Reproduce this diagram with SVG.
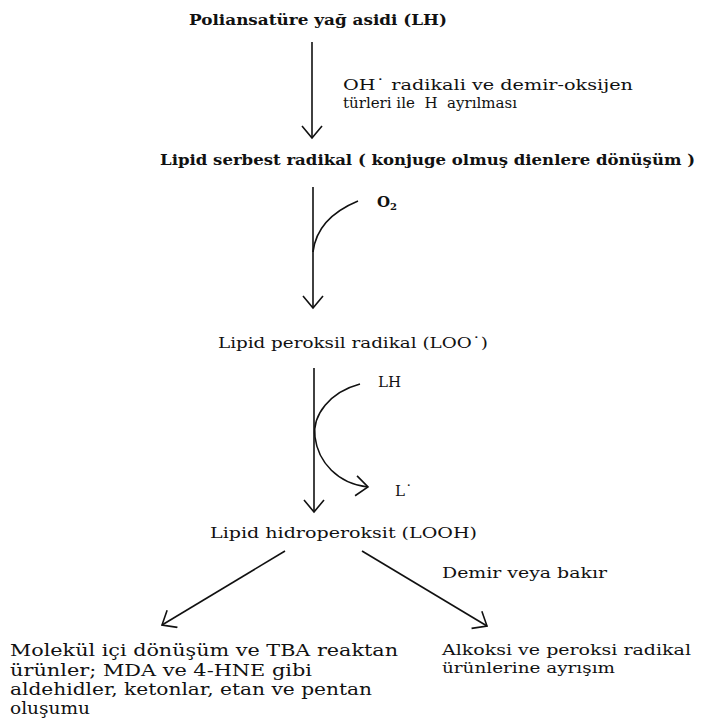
<svg xmlns="http://www.w3.org/2000/svg" width="702" height="722" viewBox="0 0 702 722">
<defs>
<marker id="ah" markerUnits="userSpaceOnUse" markerWidth="16" markerHeight="22" refX="13" refY="11" orient="auto" viewBox="0 0 16 22">
<path d="M1,1 L13,11 L1,21" fill="none" stroke="#111" stroke-width="1.6"/>
</marker>
<style>
text{font-family:"DejaVu Serif","Liberation Serif",serif;fill:#111;}
.b{font-weight:bold;}
.t{font-size:16px;}
.s{font-size:15px;}
.m{font-size:14px;}
.pre{white-space:pre;}
.ln{fill:none;stroke:#111;stroke-width:1.6;}
</style>
</defs>
<rect width="702" height="722" fill="#fff"/>
<g id="connectors">
<path class="ln" d="M312,42 V138" marker-end="url(#ah)"/>
<path class="ln" d="M313,187 V308" marker-end="url(#ah)"/>
<path class="ln" d="M313,252 Q317,218 358,201"/>
<path class="ln" d="M314,368 V512" marker-end="url(#ah)"/>
<path class="ln" d="M360,384 C330,392 312,415 315,437 C318,462 338,484 368,487" marker-end="url(#ah)"/>
<path class="ln" d="M285,551 L162,625" marker-end="url(#ah)"/>
<path class="ln" d="M362,551 L487,626" marker-end="url(#ah)"/>
</g>
<g id="n-pufa"><text class="b s" x="189" y="25" textLength="258" lengthAdjust="spacingAndGlyphs">Poliansatüre yağ asidi (LH)</text></g>
<g id="l-oh">
<text class="m" x="343" y="90" textLength="290" lengthAdjust="spacingAndGlyphs">OH˙ radikali ve demir-oksijen</text>
<text class="m pre" x="343" y="108" textLength="174" lengthAdjust="spacingAndGlyphs">türleri ile  H  ayrılması</text>
</g>
<g id="n-lsr"><text class="b s" x="160" y="165" textLength="535" lengthAdjust="spacingAndGlyphs">Lipid serbest radikal ( konjuge olmuş dienlere dönüşüm )</text></g>
<g id="l-o2"><text class="b s" x="377" y="207">O<tspan font-size="10" dy="3">2</tspan></text></g>
<g id="n-loo"><text class="s" x="218" y="348" textLength="270" lengthAdjust="spacingAndGlyphs">Lipid peroksil radikal (LOO˙)</text></g>
<g id="l-lh"><text class="s" x="378" y="387">LH</text></g>
<g id="l-l"><text class="s" x="395" y="496">L˙</text></g>
<g id="n-looh"><text class="s" x="210" y="538" textLength="267" lengthAdjust="spacingAndGlyphs">Lipid hidroperoksit (LOOH)</text></g>
<g id="l-fe"><text class="s" x="442" y="578" textLength="165" lengthAdjust="spacingAndGlyphs">Demir veya bakır</text></g>
<g id="n-left">
<text class="t" x="10" y="656" textLength="388" lengthAdjust="spacingAndGlyphs">Molekül içi dönüşüm ve TBA reaktan</text>
<text class="t" x="10" y="676" textLength="302" lengthAdjust="spacingAndGlyphs">ürünler; MDA ve 4-HNE gibi</text>
<text class="t" x="10" y="695" textLength="362" lengthAdjust="spacingAndGlyphs">aldehidler, ketonlar, etan ve pentan</text>
<text class="t" x="10" y="714" textLength="80" lengthAdjust="spacingAndGlyphs">oluşumu</text>
</g>
<g id="n-right">
<text class="s" x="442" y="655" textLength="249" lengthAdjust="spacingAndGlyphs">Alkoksi ve peroksi radikal</text>
<text class="s" x="442" y="673" textLength="173" lengthAdjust="spacingAndGlyphs">ürünlerine ayrışım</text>
</g>
</svg>
